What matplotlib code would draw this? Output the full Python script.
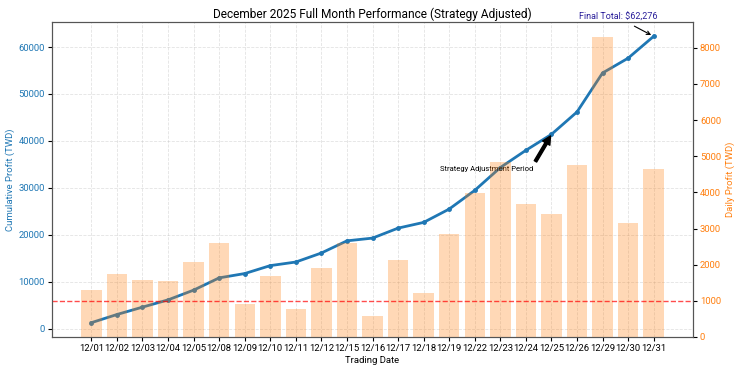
import numpy as np
import matplotlib
matplotlib.use("Agg")
import matplotlib.pyplot as plt

plt.rcParams['font.family'] = ['Roboto', 'DejaVu Sans']

# trading days in December 2025
dates = ['12/01', '12/02', '12/03', '12/04', '12/05', '12/08', '12/09', '12/10',
         '12/11', '12/12', '12/15', '12/16', '12/17', '12/18', '12/19', '12/22',
         '12/23', '12/24', '12/25', '12/26', '12/29', '12/30', '12/31']
daily_profit = [1310, 1740, 1570, 1545, 2075, 2610, 920, 1690,
                765, 1920, 2590, 580, 2125, 1220, 2840, 3980,
                4855, 3670, 3395, 4770, 8300, 3155, 4651]
cum_profit = np.cumsum(daily_profit)
target_line = 1000
adjust_idx = 18  # 12/25

fig, ax1 = plt.subplots(figsize=(7.4, 3.7), dpi=100)
fig.subplots_adjust(left=0.0703, right=0.9365, top=0.9405, bottom=0.0892)

x = np.arange(len(dates))
ax1.plot(x, cum_profit, color='tab:blue', marker='o', markersize=2.5, linewidth=2)
ax1.set_ylabel('Cumulative Profit (TWD)', color='tab:blue', fontsize=6.8, labelpad=3)
ax1.tick_params(axis='y', labelcolor='tab:blue', labelsize=6.8, length=3, pad=2)
ax1.tick_params(axis='x', labelsize=6.8, length=3, pad=2)
ax1.set_xlabel('Trading Date', fontsize=6.8, labelpad=2)
ax1.grid(True, linestyle='--', alpha=0.35, linewidth=0.6)

ax2 = ax1.twinx()
ax2.bar(x, daily_profit, color='tab:orange', alpha=0.3, width=0.8)
ax2.axhline(target_line, color='red', linestyle='--', linewidth=1, alpha=0.7)
ax2.set_ylabel('Daily Profit (TWD)', color='tab:orange', fontsize=6.8, labelpad=3)
ax2.tick_params(axis='y', labelcolor='tab:orange', labelsize=6.8, length=3, pad=2)

ax1.set_xticks(x)
ax1.set_xticklabels(dates)

for ax in (ax1, ax2):
    for s in ax.spines.values():
        s.set_color('#555555')

ax1.set_title('December 2025 Full Month Performance (Strategy Adjusted)', fontsize=8.6, pad=3)

ax1.annotate('Strategy Adjustment Period',
             xy=(adjust_idx, cum_profit[adjust_idx]),
             xytext=(15.45, 34100), ha='center', va='center', fontsize=5.5,
             arrowprops=dict(facecolor='black', shrink=0.05, width=2, headwidth=6, headlength=6))
ax1.annotate(f'Final Total: ${cum_profit[-1]:,}',
             xy=(x[-1], cum_profit[-1]),
             xytext=(20.6, 66300), ha='center', va='center', fontsize=6.5, color='#2a1f9a',
             arrowprops=dict(arrowstyle='->', color='black', linewidth=0.8),
             annotation_clip=False)

fig.savefig('out.png')
